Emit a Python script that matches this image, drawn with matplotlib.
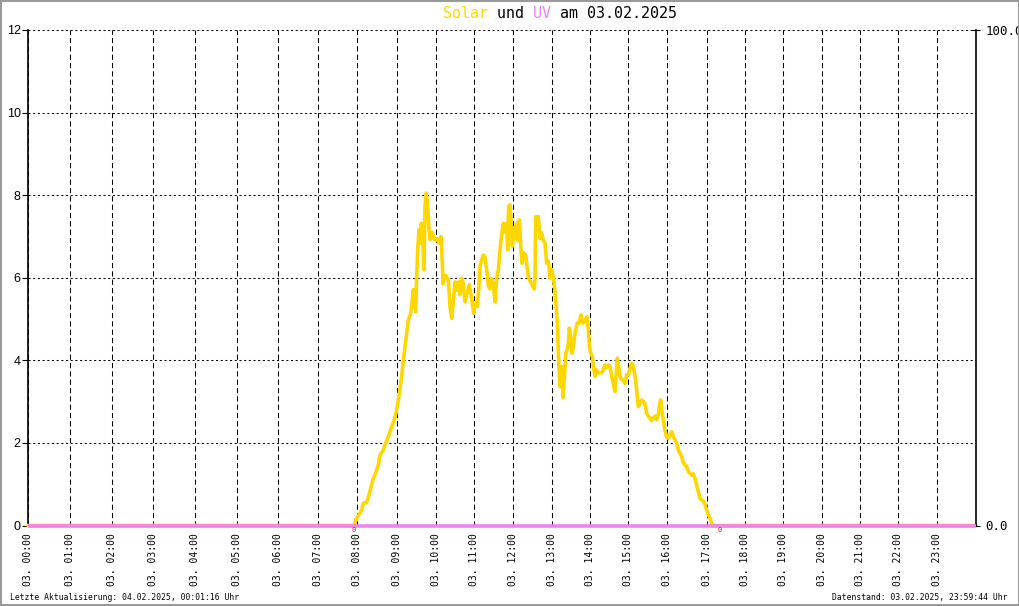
import numpy as np
import matplotlib
matplotlib.use("Agg")
import matplotlib.pyplot as plt
from matplotlib.patches import Rectangle

hours = list(range(24))
hour_labels = [f"03. {h:02d}:00" for h in hours]

# solar curve, time in hours of 03.02.2025
solar_time = [0.0, 7.923, 7.958, 8.026, 8.109, 8.151, 8.234, 8.293, 8.343, 8.401, 8.459,
              8.526, 8.568, 8.651, 8.709, 8.776, 8.859, 8.926, 8.984, 9.026, 9.069,
              9.112, 9.155, 9.197, 9.240, 9.283, 9.343, 9.385, 9.411, 9.437, 9.471,
              9.497, 9.522, 9.556, 9.591, 9.616, 9.650, 9.685, 9.710, 9.744, 9.779,
              9.813, 9.847, 9.898, 9.950, 10.010, 10.071, 10.124, 10.159, 10.180, 10.211,
              10.255, 10.317, 10.361, 10.405, 10.448, 10.492, 10.536, 10.580, 10.624, 10.668,
              10.712, 10.755, 10.817, 10.870, 10.913, 10.948, 10.984, 11.026, 11.078, 11.112,
              11.146, 11.189, 11.232, 11.274, 11.317, 11.360, 11.403, 11.446, 11.488, 11.531,
              11.574, 11.617, 11.659, 11.702, 11.745, 11.787, 11.830, 11.856, 11.881, 11.915,
              11.941, 11.975, 12.018, 12.052, 12.086, 12.121, 12.155, 12.189, 12.223, 12.274,
              12.317, 12.360, 12.394, 12.445, 12.497, 12.539, 12.557, 12.565, 12.582, 12.599,
              12.642, 12.685, 12.728, 12.770, 12.813, 12.856, 12.900, 12.941, 12.984, 13.027,
              13.071, 13.115, 13.141, 13.159, 13.185, 13.211, 13.247, 13.282, 13.317, 13.352,
              13.387, 13.422, 13.448, 13.483, 13.518, 13.553, 13.580, 13.615, 13.659, 13.702,
              13.755, 13.808, 13.861, 13.913, 13.948, 13.975, 14.010, 14.053, 14.080, 14.124,
              14.168, 14.211, 14.255, 14.299, 14.343, 14.387, 14.431, 14.475, 14.518, 14.562,
              14.606, 14.650, 14.676, 14.711, 14.746, 14.782, 14.825, 14.869, 14.913, 14.957,
              15.001, 15.044, 15.087, 15.129, 15.172, 15.215, 15.257, 15.300, 15.343, 15.386,
              15.428, 15.471, 15.514, 15.557, 15.599, 15.642, 15.685, 15.728, 15.771, 15.796,
              15.830, 15.864, 15.899, 15.941, 15.984, 16.026, 16.069, 16.111, 16.153, 16.195,
              16.238, 16.280, 16.322, 16.365, 16.407, 16.449, 16.492, 16.534, 16.576, 16.619,
              16.661, 16.703, 16.746, 16.788, 16.830, 16.873, 16.915, 16.957, 16.999, 17.042,
              17.086, 17.129, 17.155, 23.996]
solar_value = [0.0, 0.0, 0.13, 0.25, 0.37, 0.54, 0.56, 0.74, 0.94, 1.14, 1.27,
               1.47, 1.71, 1.83, 1.99, 2.15, 2.39, 2.56, 2.80, 3.04, 3.32,
               3.61, 4.01, 4.33, 4.66, 4.98, 5.14, 5.46, 5.71, 5.40, 5.18,
               6.03, 6.68, 7.16, 6.84, 7.32, 7.00, 6.19, 7.73, 8.05, 7.73,
               7.16, 6.92, 7.10, 6.92, 6.95, 6.84, 7.00, 6.35, 5.85, 6.03,
               6.05, 5.95, 5.30, 5.02, 5.43, 5.90, 5.70, 5.90, 5.59, 5.99,
               5.85, 5.42, 5.65, 5.83, 5.60, 5.38, 5.14, 5.40, 5.30, 5.70,
               6.27, 6.43, 6.55, 6.50, 6.20, 5.80, 5.73, 5.98, 5.85, 5.41,
               5.99, 6.19, 6.68, 7.04, 7.32, 7.10, 7.32, 6.68, 7.73, 7.77,
               7.40, 6.76, 7.20, 6.95, 7.32, 6.90, 7.40, 6.80, 6.35, 6.60,
               6.55, 6.20, 5.98, 5.90, 5.79, 5.73, 5.99, 6.92, 7.48, 7.32,
               7.48, 6.95, 7.08, 6.90, 6.84, 6.35, 6.40, 5.99, 6.20, 6.00,
               5.67, 5.14, 4.74, 4.17, 3.61, 3.36, 3.85, 3.10, 3.55, 4.17,
               4.25, 4.41, 4.78, 4.55, 4.17, 4.33, 4.55, 4.74, 4.90, 4.90,
               5.10, 4.90, 4.98, 5.06, 4.74, 4.37, 4.17, 4.09, 3.85, 3.61,
               3.77, 3.70, 3.70, 3.70, 3.78, 3.89, 3.82, 3.89, 3.85, 3.61,
               3.44, 3.24, 3.61, 4.05, 3.85, 3.61, 3.53, 3.53, 3.44, 3.65,
               3.65, 3.80, 3.93, 3.85, 3.63, 3.28, 2.88, 2.95, 3.04, 3.00,
               2.95, 2.72, 2.65, 2.60, 2.54, 2.60, 2.65, 2.56, 2.70, 2.88,
               3.04, 2.80, 2.54, 2.31, 2.15, 2.11, 2.20, 2.27, 2.15, 2.07,
               2.00, 1.83, 1.75, 1.67, 1.51, 1.47, 1.43, 1.30, 1.27, 1.22,
               1.25, 1.14, 0.98, 0.82, 0.66, 0.62, 0.59, 0.51, 0.38, 0.26,
               0.18, 0.06, 0.0, 0.0]

uv_time = [0.0, 23.996]
uv_value = [0.0, 0.0]

sun_marks = [7.915, 17.33]

# original x axis runs by sample count, so the hours are not equally wide
knot_h = np.arange(25, dtype=float)
knot_px = np.array([28.3, 70, 111.7, 153.3, 195, 236.7, 278.3, 318.5, 357.3, 397.3,
                    436.3, 474.3, 513.3, 552.3, 590.3, 628.3, 667.3, 706.7, 745,
                    783.3, 821.7, 860, 898.3, 936.7, 976])


def _interp(v, xs, ys):
    v = np.asarray(v, dtype=float)
    out = np.interp(v, xs, ys)
    lo = ys[0] + (v - xs[0]) * (ys[1] - ys[0]) / (xs[1] - xs[0])
    hi = ys[-1] + (v - xs[-1]) * (ys[-1] - ys[-2]) / (xs[-1] - xs[-2])
    out = np.where(v < xs[0], lo, out)
    out = np.where(v > xs[-1], hi, out)
    return out


def fwd(h):
    return _interp(h, knot_h, knot_px)


def inv(p):
    return _interp(p, knot_px, knot_h)


W, H = 1020, 606
fig = plt.figure(figsize=(W / 100, H / 100), dpi=100)
ax = fig.add_axes([28.3 / W, (H - 525.5) / H, (976 - 28.3) / W, (525.5 - 30) / H])
ax.set_xscale("function", functions=(fwd, inv))
ax.set_xlim(0, 24)
ax.set_ylim(0, 12)

mono = "DejaVu Sans Mono"
ax.set_xticks(hours)
ax.set_xticklabels(hour_labels, rotation=90, family=mono, size=7)
ax.tick_params(axis="x", length=0, pad=5.5)
ax.set_yticks([0, 2, 4, 6, 8, 10, 12])
ax.set_yticklabels(["0", "2", "4", "6", "8", "10", "12"], family="Liberation Sans", size=9)
ax.tick_params(axis="y", length=4, width=0.8, pad=1.5)

ax.xaxis.grid(True, color="black", lw=0.75, ls=(0, (5, 3)))
ax.yaxis.grid(True, color="black", lw=0.75, ls=(0, (2, 2.5)))
for s in ["top", "bottom", "right"]:
    ax.spines[s].set_visible(False)
ax.spines["left"].set_linewidth(1.2)

ax.plot(solar_time, solar_value, color="#FFD700", lw=2.6, clip_on=False, zorder=3)

ax2 = ax.twinx()
ax2.set_ylim(0, 100)
ax2.set_yticks([0, 100])
ax2.set_yticklabels(["0.0", "100.0"], family=mono, size=9)
ax2.tick_params(axis="y", direction="inout", length=6, width=0.8, pad=4)
for s in ["top", "bottom", "left"]:
    ax2.spines[s].set_visible(False)
ax2.spines["right"].set_linewidth(1.2)
ax2.plot(uv_time, uv_value, color="#EE82EE", lw=2.6, clip_on=False, zorder=4,
         solid_capstyle="butt")

# red zero labels drawn on the top axes so the pink line does not hide them
for t in sun_marks:
    ax2.annotate("0", (t, 0), xytext=(0, -1.3), textcoords="offset points",
                 color="red", ha="center", va="top", size=5, family=mono, zorder=5)

# title in three colours, monospaced so the pieces line up
title_y = 1 - 13.5 / H
tx = 442.7 / W
fig.text(tx, title_y, "Solar                     ", color="#FFD700", family=mono, size=10.8, va="center")
fig.text(tx, title_y, "          UV              ", color="#EE82EE", family=mono, size=10.8, va="center")
fig.text(tx, title_y, "      und    am 03.02.2025", color="black", family=mono, size=10.8, va="center")

fig.text(10 / W, 8.5 / H, "Letzte Aktualisierung: 04.02.2025, 00:01:16 Uhr",
         family=mono, size=5.8, va="center", ha="left")
fig.text(1008 / W, 8.5 / H, "Datenstand: 03.02.2025, 23:59:44 Uhr",
         family=mono, size=5.8, va="center", ha="right")

fig.add_artist(Rectangle((0, 0), 1, 1, transform=fig.transFigure, fill=False,
                         ec="#999999", lw=2.9))

fig.savefig("out.png", dpi=100)
